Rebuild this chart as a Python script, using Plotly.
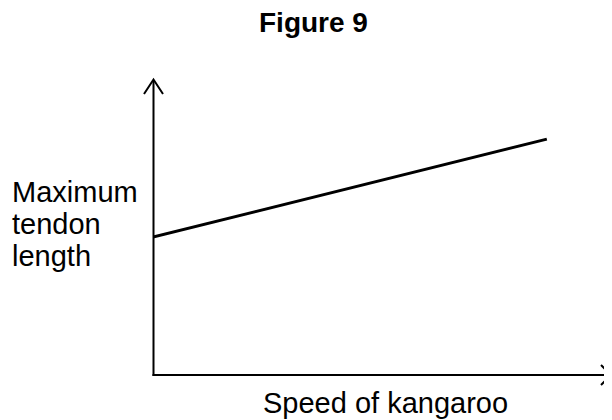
import plotly.graph_objects as go

# Data (arbitrary units; qualitative sketch)
speed = [0.0, 8.58]
tendon_length = [4.66, 7.97]

title_text = "Figure 9"
x_label = "Speed of kangaroo"
y_label_lines = ["Maximum", "tendon", "length"]

# The page body has an 8px margin, so the figure is drawn 8px in from the corner.
OFF = 8
W, H = 612 - OFF, 420 - OFF
# plot area in screen pixels: x 153..612, y 79..375
ML, MR, MT, MB = 153 - OFF, 0, 79 - OFF, 420 - 375
PW, PH = W - ML - MR, H - MT - MB


def px(xs):
    return (xs - OFF - ML) / PW


def py(ys):
    return (375 - ys) / PH


fig = go.Figure()
fig.add_trace(go.Scatter(x=speed, y=tendon_length, mode="lines",
                         line=dict(color="black", width=3),
                         hoverinfo="skip", showlegend=False))

shapes = [
    # y axis
    dict(type="line", xref="paper", yref="paper", x0=px(153.5), y0=py(376), x1=px(153.5), y1=py(80),
         line=dict(color="black", width=2)),
    # x axis
    dict(type="line", xref="paper", yref="paper", x0=px(152.5), y0=py(375), x1=px(611), y1=py(375),
         line=dict(color="black", width=2)),
    # y arrowhead
    dict(type="path", xref="paper", yref="paper",
         path=f"M {px(144)} {py(94)} L {px(153.5)} {py(79.5)} L {px(163)} {py(94)}",
         line=dict(color="black", width=2)),
    # x arrowhead
    dict(type="path", xref="paper", yref="paper",
         path=f"M {px(601)} {py(365)} L {px(611)} {py(375)} L {px(601)} {py(385)}",
         line=dict(color="black", width=2)),
]

font = "Liberation Sans, Arial, sans-serif"
annotations = [
    dict(text=f"<b>{title_text}</b>", xref="paper", yref="paper", x=px(313), y=py(23),
         xanchor="center", yanchor="middle", showarrow=False,
         font=dict(family=font, size=28, color="black")),
    dict(text=x_label, xref="paper", yref="paper", x=px(385), y=py(403),
         xanchor="center", yanchor="middle", showarrow=False,
         font=dict(family=font, size=29, color="black")),
]
for i, line in enumerate(y_label_lines):
    annotations.append(dict(text=line, xref="paper", yref="paper", x=px(10), y=py(192 + 32 * i),
                            xanchor="left", yanchor="middle", showarrow=False,
                            font=dict(family=font, size=29, color="black")))

fig.update_layout(
    width=W, height=H,
    margin=dict(l=ML, r=MR, t=MT, b=MB, pad=0),
    paper_bgcolor="white", plot_bgcolor="white",
    xaxis=dict(range=[0, 10], visible=False, fixedrange=True),
    yaxis=dict(range=[0, 10], visible=False, fixedrange=True),
    shapes=shapes, annotations=annotations,
    showlegend=False,
)

fig.write_html("out.html", config={"displayModeBar": False})
